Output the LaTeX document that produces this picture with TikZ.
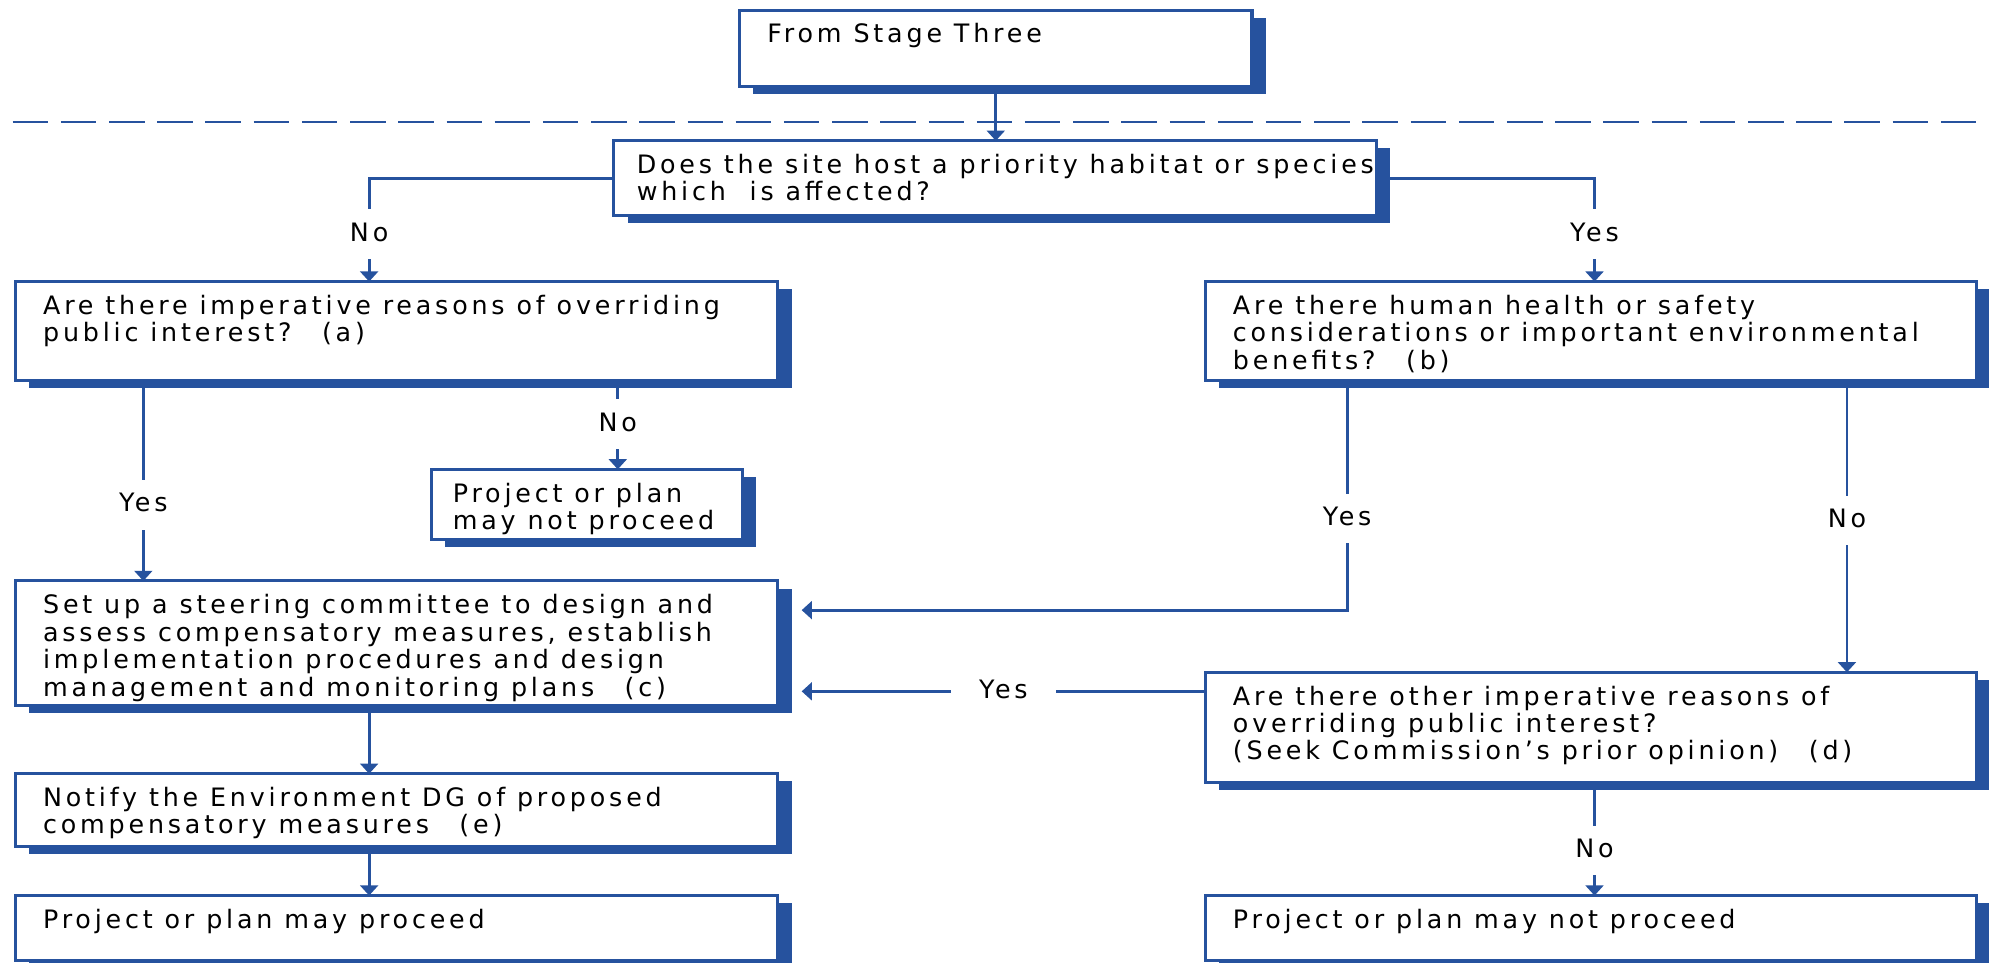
\documentclass[tikz,border=0pt]{standalone}
\usepackage{fontspec}
\setmainfont{DejaVu Sans}[LetterSpace=15]
\usetikzlibrary{arrows.meta,calc,shadows}
\definecolor{bl}{RGB}{38,82,158}
\newcommand\bxt[4][11pt]{\parbox[c][#3][t]{#2}{\vspace*{5.3pt}\hspace*{#1}\begin{tabular}[t]{@{}l@{}}#4\end{tabular}}}
\begin{document}
\begin{tikzpicture}[x=0.5pt,y=-0.5pt,font=\fontsize{10}{10.75}\selectfont,
  box/.style={draw=bl,line width=1.2pt,fill=white,rectangle,anchor=north west,inner sep=0pt,outer sep=0pt,
    drop shadow={shadow xshift=5.5pt,shadow yshift=-3pt,fill=bl,opacity=1}},
  conn/.style={draw=bl,line width=1.1pt,-{Triangle[length=4pt,width=7pt]}},
  lbl/.style={fill=white,inner xsep=3pt,inner ysep=5pt,text height=7.5pt,text depth=2pt},
  lblh/.style={fill=white,inner xsep=11pt,inner ysep=2pt,text height=7.5pt,text depth=2pt},
  dashline/.style={draw=bl,line width=1pt,dash pattern=on 14pt off 5pt}]
\useasboundingbox (0,0) rectangle (1568,759);
\coordinate (dl) at (10,96);
\coordinate (dr) at (1568,96);
\draw[dashline] (dl) -- (dr);

\node[box] (S) at (583,8) {\bxt{202pt}{30pt}{From Stage Three}};
\node[box] (Q1) at (484,111) {\bxt[9pt]{300.5pt}{29.5pt}{Does the site host a priority habitat or species\\which~ is affected?}};
\node[box] (A) at (12,222) {\bxt{300.5pt}{39pt}{Are there imperative reasons of overriding\\public interest?\hspace{12pt}(a)}};
\node[box] (B) at (950,222) {\bxt{304pt}{39pt}{Are there human health or safety\\considerations or important environmental\\benefits?\hspace{12pt}(b)}};
\node[box] (NP1) at (340,370) {\bxt[8.5pt]{122.5pt}{27.5pt}{Project or plan\\may not proceed}};
\node[box] (C) at (12,458) {\bxt{300.5pt}{49pt}{Set up a steering committee to design and\\assess compensatory measures, establish\\implementation procedures and design\\management and monitoring plans\hspace{12pt}(c)}};
\node[box] (D) at (950,530) {\bxt{304pt}{43.5pt}{Are there other imperative reasons of\\overriding public interest?\\(Seek Commission’s prior opinion)\hspace{12pt}(d)}};
\node[box] (E) at (12,610) {\bxt{300.5pt}{28.5pt}{Notify the Environment DG of proposed\\compensatory measures\hspace{12pt}(e)}};
\node[box] (F) at (12,706) {\bxt{300.5pt}{25.5pt}{Project or plan may proceed}};
\node[box] (NP2) at (950,706) {\bxt{304pt}{25.5pt}{Project or plan may not proceed}};

\draw[conn] (S.south) -- (S.south |- Q1.north);
\draw[conn] (Q1.west) -| node[lbl,pos=0.77]{No} ($(A.north west)+(279,0)$);
\draw[conn] (Q1.east) -| node[lbl,pos=0.77]{Yes} ($(B.north west)+(307,0)$);
\draw[conn] ($(A.south west)+(101,0)$) -- node[lbl,pos=0.62]{Yes} ($(C.north west)+(101,0)$);
\draw[conn] ($(A.south west)+(475,0)$) -- node[lbl,pos=0.49]{No} ($(NP1.north west)+(147,0)$);
\draw[conn] ($(B.south west)+(112,0)$) |- node[lbl,pos=0.30]{Yes} ($(C.north east)+(19,23)$);
\draw[conn] ($(B.south west)+(506,0)$) -- node[lbl,pos=0.48]{No} ($(D.north west)+(506,0)$);
\draw[conn] ($(D.north west)+(0,15)$) -- node[lblh,pos=0.5]{Yes} ($(C.north east)+(19,87)$);
\draw[conn] ($(C.south west)+(279,0)$) -- ($(E.north west)+(279,0)$);
\draw[conn] ($(E.south west)+(279,0)$) -- ($(F.north west)+(279,0)$);
\draw[conn] ($(D.south west)+(307,0)$) -- node[lbl,pos=0.6]{No} ($(NP2.north west)+(307,0)$);
\end{tikzpicture}
\end{document}
